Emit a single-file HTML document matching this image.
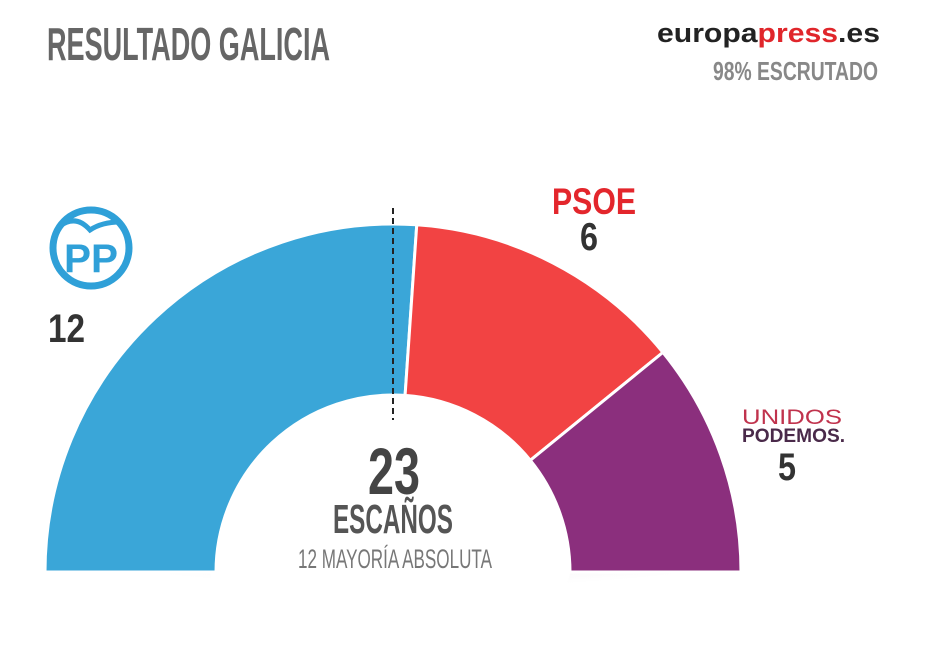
<!DOCTYPE html>
<html><head><meta charset="utf-8"><style>
html,body{margin:0;padding:0;background:#fff;}
svg{display:block;}
</style></head><body>
<svg id="chart" width="930" height="646" viewBox="0 0 930 646" xmlns="http://www.w3.org/2000/svg" font-family="'Liberation Sans', sans-serif">
<defs>
<radialGradient id="shadow" cx="0.5" cy="0" r="0.6">
<stop offset="0" stop-color="#e4e4e4"/><stop offset="0.7" stop-color="#f2f2f2"/><stop offset="1" stop-color="#fff"/>
</radialGradient>
<clipPath id="below"><rect x="0" y="573" width="930" height="73"/></clipPath>
</defs>
<g clip-path="url(#below)">
<ellipse cx="420" cy="572" rx="420" ry="80" fill="url(#shadow)"/>
<ellipse cx="390" cy="572" rx="180" ry="55" fill="#fff"/>
</g>
<g id="slices"></g>
<line x1="393" y1="208" x2="393" y2="420" stroke="#222" stroke-width="2" stroke-dasharray="6,4"/>
<text x="47" y="60" font-size="46" font-weight="bold" fill="#666" textLength="283" lengthAdjust="spacingAndGlyphs">RESULTADO GALICIA</text>
<text x="657" y="42" font-size="27" font-weight="bold" textLength="223" lengthAdjust="spacingAndGlyphs"><tspan fill="#222">europa</tspan><tspan fill="#e0262b">press</tspan><tspan fill="#222">.es</tspan></text>
<text x="713" y="80" font-size="26" font-weight="bold" fill="#888" textLength="165" lengthAdjust="spacingAndGlyphs">98% ESCRUTADO</text>
<g>
<circle cx="91" cy="248" r="38" fill="none" stroke="#2fa0d8" stroke-width="7"/>
<path d="M60 226 Q76 214 90 230 Q102 222 120 222" fill="none" stroke="#2fa0d8" stroke-width="5"/>
<text x="64" y="272" font-size="40" font-weight="bold" fill="#2fa0d8" textLength="54" lengthAdjust="spacingAndGlyphs">PP</text>
</g>
<text x="48" y="342" font-size="40" font-weight="bold" fill="#333" textLength="37" lengthAdjust="spacingAndGlyphs">12</text>
<text x="552" y="214" font-size="37" font-weight="bold" fill="#e3262c" textLength="84" lengthAdjust="spacingAndGlyphs">PSOE</text>
<text x="580" y="250" font-size="39" font-weight="bold" fill="#333" textLength="18" lengthAdjust="spacingAndGlyphs">6</text>
<text x="742" y="424" font-size="21" fill="#c0334d" textLength="100" lengthAdjust="spacingAndGlyphs">UNIDOS</text>
<text x="742" y="442" font-size="19" font-weight="bold" fill="#4a2a4a" textLength="103" lengthAdjust="spacingAndGlyphs">PODEMOS.</text>
<text x="778" y="480" font-size="39" font-weight="bold" fill="#333" textLength="18" lengthAdjust="spacingAndGlyphs">5</text>
<text x="368" y="494" font-size="66" font-weight="bold" fill="#444" textLength="52" lengthAdjust="spacingAndGlyphs">23</text>
<text x="333" y="533" font-size="41" font-weight="bold" fill="#555" textLength="120" lengthAdjust="spacingAndGlyphs">ESCAÑOS</text>
<text x="298" y="568" font-size="27" fill="#777" textLength="194" lengthAdjust="spacingAndGlyphs">12 MAYORÍA ABSOLUTA</text>
</svg>
<script>
const parties = ['PP', 'PSOE', 'Unidos Podemos'];
const seats = [12, 6, 5];
const colors = ['#3aa6d8', '#f24343', '#8b2f7d'];
const cx = 393, cy = 572, rOut = 348, rIn = 177;
const total = seats.reduce((a, b) => a + b, 0);
function angleOf(v) { return Math.PI - (v / total) * Math.PI; }
function pt(r, a) { return [cx + r * Math.cos(a), cy - r * Math.sin(a)]; }
const g = document.getElementById('slices');
let acc = 0;
seats.forEach((s, i) => {
  const a0 = angleOf(acc), a1 = angleOf(acc + s);
  acc += s;
  const p0 = pt(rOut, a0), p1 = pt(rOut, a1), p2 = pt(rIn, a1), p3 = pt(rIn, a0);
  const d = `M${p0[0]},${p0[1]} A${rOut},${rOut} 0 0 1 ${p1[0]},${p1[1]} L${p2[0]},${p2[1]} A${rIn},${rIn} 0 0 0 ${p3[0]},${p3[1]} Z`;
  const path = document.createElementNS('http://www.w3.org/2000/svg', 'path');
  path.setAttribute('d', d);
  path.setAttribute('fill', colors[i]);
  path.setAttribute('stroke', '#fff');
  path.setAttribute('stroke-width', '3');
  
  
  g.appendChild(path);
});
</script>
</body></html>
